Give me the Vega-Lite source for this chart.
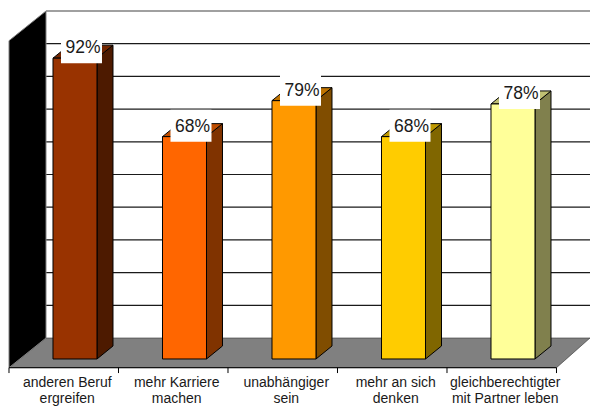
{
  "$schema": "https://vega.github.io/schema/vega-lite/v6.json",
  "width": 590,
  "height": 407,
  "autosize": "none",
  "padding": 0,
  "background": "white",
  "view": {"stroke": null},
  "data": {"values": [
    {"label": "anderen Beruf\nergreifen", "value": 92},
    {"label": "mehr Karriere\nmachen", "value": 68},
    {"label": "unabhängiger\nsein", "value": 79},
    {"label": "mehr an sich\ndenken", "value": 68},
    {"label": "gleichberechtigter\nmit Partner leben", "value": 78}
  ]},
  "transform": [
    {"window": [{"op": "row_number", "as": "n"}]},
    {"calculate": "datum.n - 1 + 0.4018", "as": "left"},
    {"calculate": "datum.left + 0.4018", "as": "right"},
    {"calculate": "datum.value + '%'", "as": "pct"}
  ],
  "encoding": {
    "x": {"type": "quantitative", "scale": {"domain": [-0.08219, 5.30594], "nice": false, "zero": false}, "axis": null},
    "y": {"type": "quantitative", "scale": {"domain": [-14.679, 109.786], "nice": false, "zero": false}, "axis": null}
  },
  "resolve": {"scale": {"fill": "independent"}},
  "layer": [
    {
      "description": "Back wall gridlines, every 10 percent",
      "data": {"values": [{"level": 10}, {"level": 20}, {"level": 30}, {"level": 40}, {"level": 50}, {"level": 60}, {"level": 70}, {"level": 80}, {"level": 90}]},
      "transform": [{"calculate": "datum.level + 6.42", "as": "wall"}, {"calculate": "0.3379", "as": "a"}, {"calculate": "5.3059", "as": "b"}],
      "mark": {"type": "rule", "stroke": "#1a1a1a", "strokeWidth": 1.2},
      "encoding": {"x": {"field": "a"}, "x2": {"field": "b"}, "y": {"field": "wall"}}
    },
    {
      "description": "Top edge and left edge of the back wall",
      "data": {"values": [{"level": 100}]},
      "transform": [{"calculate": "datum.level + 6.42", "as": "wall"}, {"calculate": "0.3379", "as": "a"}, {"calculate": "5.3059", "as": "b"}],
      "mark": {"type": "rule", "stroke": "#808080", "strokeWidth": 1.5},
      "encoding": {"x": {"field": "a"}, "x2": {"field": "b"}, "y": {"field": "wall"}}
    },
    {
      "description": "Grey floor, drawn as a parallelogram",
      "data": {"values": [{"corner": 0}, {"corner": 1}, {"corner": 2}, {"corner": 3}]},
      "transform": [
        {"calculate": "[0, 0.3379, 5, 5.3059][datum.corner]", "as": "px"},
        {"calculate": "[-2.66, -2.66, -2.66, 6.42][datum.corner]", "as": "near"},
        {"calculate": "[-2.66, 6.42, 6.42, 6.42][datum.corner]", "as": "far"}
      ],
      "mark": {"type": "area", "fill": "#808080", "orient": "vertical", "stroke": "#333333", "strokeWidth": 0.6},
      "encoding": {"x": {"field": "px"}, "y": {"field": "near"}, "y2": {"field": "far"}}
    },
    {
      "description": "Black left wall",
      "data": {"values": [{"depth": 0}, {"depth": 1}]},
      "transform": [
        {"calculate": "datum.depth * 0.3379", "as": "px"},
        {"calculate": "-2.66 + datum.depth * 9.08", "as": "low"},
        {"calculate": "97.34 + datum.depth * 9.08", "as": "high"}
      ],
      "mark": {"type": "area", "fill": "black", "orient": "vertical", "stroke": "#808080", "strokeWidth": 1},
      "encoding": {"x": {"field": "px"}, "y": {"field": "high"}, "y2": {"field": "low"}}
    },
    {
      "description": "Category axis line",
      "data": {"values": [{"from": 0, "to": 5}]},
      "transform": [{"calculate": "-2.66", "as": "line"}],
      "mark": {"type": "rule", "stroke": "black", "strokeWidth": 1},
      "encoding": {"x": {"field": "from"}, "x2": {"field": "to"}, "y": {"field": "line"}}
    },
    {
      "description": "Category axis ticks",
      "data": {"values": [{"tick": 0}, {"tick": 1}, {"tick": 2}, {"tick": 3}, {"tick": 4}, {"tick": 5}]},
      "transform": [{"calculate": "-2.66", "as": "a"}, {"calculate": "-4.3", "as": "b"}],
      "mark": {"type": "rule", "stroke": "black", "strokeWidth": 1},
      "encoding": {"x": {"field": "tick"}, "y": {"field": "a"}, "y2": {"field": "b"}}
    },
    {
      "description": "Side face of each bar",
      "transform": [
        {"calculate": "[0, 1]", "as": "t"},
        {"flatten": ["t"]},
        {"calculate": "datum.right + datum.t * 0.1461", "as": "px"},
        {"calculate": "datum.value + datum.t * 3.976", "as": "high"},
        {"calculate": "datum.t * 3.976", "as": "low"}
      ],
      "mark": {"type": "area", "orient": "vertical", "stroke": "black", "strokeWidth": 1},
      "encoding": {
        "x": {"field": "px"}, "y": {"field": "high"}, "y2": {"field": "low"}, "detail": {"field": "label"},
        "fill": {"field": "label", "legend": null, "sort": null, "scale": {"range": ["#4D1A00", "#803300", "#804D00", "#806600", "#80804D"]}}
      }
    },
    {
      "description": "Top face of each bar",
      "transform": [
        {"calculate": "[0, 1, 2, 3]", "as": "t"},
        {"flatten": ["t"]},
        {"calculate": "datum.left + [0, 0.1461, 0.4018, 0.5479][datum.t]", "as": "px"},
        {"calculate": "datum.value + [0, 3.976, 3.976, 3.976][datum.t]", "as": "high"},
        {"calculate": "datum.value + [0, 0, 0, 3.976][datum.t]", "as": "low"}
      ],
      "mark": {"type": "area", "orient": "vertical", "stroke": "black", "strokeWidth": 1},
      "encoding": {
        "x": {"field": "px"}, "y": {"field": "high"}, "y2": {"field": "low"}, "detail": {"field": "label"},
        "fill": {"field": "label", "legend": null, "sort": null, "scale": {"range": ["#732600", "#BF4D00", "#BF7300", "#BF9900", "#BFBF73"]}}
      }
    },
    {
      "description": "Front face of each bar",
      "transform": [{"calculate": "0", "as": "base"}],
      "mark": {"type": "rect", "stroke": "black", "strokeWidth": 1},
      "encoding": {
        "x": {"field": "left"}, "x2": {"field": "right"}, "y": {"field": "value"}, "y2": {"field": "base"},
        "fill": {"field": "label", "legend": null, "sort": null, "scale": {"range": ["#993300", "#FF6600", "#FF9900", "#FFCC00", "#FFFF99"]}}
      }
    },
    {
      "description": "White plate behind each value label",
      "transform": [{"calculate": "datum.left + 0.2009", "as": "mid"}],
      "mark": {"type": "rect", "fill": "white", "width": 41, "height": 32, "xOffset": 6.5, "yOffset": -11},
      "encoding": {"x": {"field": "mid"}, "y": {"field": "value"}}
    },
    {
      "description": "Value labels",
      "transform": [{"calculate": "datum.left + 0.2009", "as": "mid"}],
      "mark": {"type": "text", "font": "Liberation Sans", "fontSize": 17.5, "fill": "#1a1a1a", "align": "center", "baseline": "middle", "dx": 8, "dy": -10},
      "encoding": {"x": {"field": "mid"}, "y": {"field": "value"}, "text": {"field": "pct"}}
    },
    {
      "description": "Category labels, two lines each",
      "transform": [{"calculate": "datum.n - 0.5", "as": "mid"}, {"calculate": "-8.56", "as": "line"}],
      "mark": {"type": "text", "font": "Liberation Sans", "fontSize": 14, "fill": "#1a1a1a", "align": "center", "baseline": "alphabetic", "lineBreak": "\n", "lineHeight": 16.5, "dx": 3.5},
      "encoding": {"x": {"field": "mid"}, "y": {"field": "line"}, "text": {"field": "label"}}
    }
  ]
}
